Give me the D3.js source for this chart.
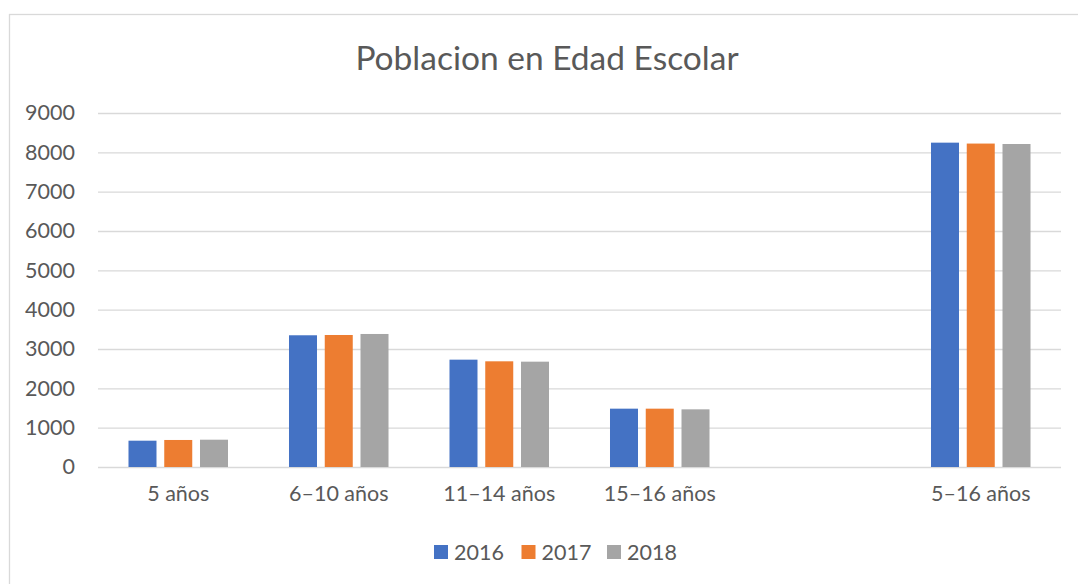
<!DOCTYPE html>
<html>
<head>
<meta charset="utf-8">
<script src="https://cdn.jsdelivr.net/npm/d3@7"></script>
<style>
  html, body { margin: 0; padding: 0; background: #fff; }
  svg { display: block; font-family: Lato, "Open Sans", sans-serif; }
  .grid line { stroke: #d9d9d9; stroke-width: 1.3; }
  .grid .domain { display: none; }
  .yAxis text, .xAxis text, .legend text { fill: #595959; }
</style>
</head>
<body>
<div id="chart"></div>
<script>
// categorias (la quinta queda vacia en el original)
var categories = ["5 años", "6–10 años", "11–14 años", "15–16 años", " ", "5–16 años"];
var years = ["2016", "2017", "2018"];
var values2016 = [669, 3349, 2729, 1483, null, 8246];
var values2017 = [687, 3356, 2687, 1483, null, 8223];
var values2018 = [694, 3382, 2678, 1466, null, 8212];
var yTicks = [0, 1000, 2000, 3000, 4000, 5000, 6000, 7000, 8000, 9000];
var colors = ["#4472c4", "#ed7d31", "#a5a5a5"];

var W = 1078, H = 584;
var margin = {top: 113, right: 17, bottom: 117, left: 98},
    width = W - margin.left - margin.right,
    height = H - margin.top - margin.bottom;
var labelSize = 21.5;

var svg = d3.select("#chart").append("svg")
    .attr("width", W)
    .attr("height", H);

// marco del grafico
svg.append("rect")
    .attr("x", 9.5).attr("y", 14.5)
    .attr("width", W + 20).attr("height", H + 20)
    .attr("fill", "none").attr("stroke", "#d9d9d9").attr("stroke-width", 1.3);

svg.append("text")
    .attr("x", 547).attr("y", 70)
    .attr("text-anchor", "middle")
    .attr("font-size", 33.5)
    .attr("fill", "#595959")
    .text("Poblacion en Edad Escolar");

var g = svg.append("g").attr("transform", "translate(" + margin.left + "," + margin.top + ")");

var seriesData = [values2016, values2017, values2018];
var rows = categories.map(function(c, i){
  return { cat: c, vals: years.map(function(yr, j){ return {year: yr, idx: j, v: seriesData[j][i]}; }) };
});

var x0 = d3.scaleBand().domain(categories).range([0, width]).paddingInner(0.38).paddingOuter(0.19);
var x1 = d3.scaleBand().domain(years).range([0, x0.bandwidth()]).paddingInner(0.217).paddingOuter(0);
var y = d3.scaleLinear().domain([0, 9000]).range([height, 0]);

g.append("g")
    .attr("class", "grid")
    .call(d3.axisLeft(y).tickValues(yTicks).tickSize(-width).tickFormat(""));

g.append("g")
    .attr("class", "yAxis")
    .call(d3.axisLeft(y).tickValues(yTicks).tickSize(0).tickPadding(23).tickFormat(d3.format("d")))
    .call(function(a){ a.select(".domain").remove(); })
    .selectAll("text").attr("font-size", labelSize).attr("font-family", "Lato");

var groups = g.selectAll(".grp")
    .data(rows)
    .enter().append("g")
    .attr("class", "grp")
    .attr("transform", function(d){ return "translate(" + x0(d.cat) + ",0)"; });

groups.selectAll("rect")
    .data(function(d){ return d.vals.filter(function(e){ return e.v != null; }); })
    .enter().append("rect")
    .attr("x", function(d){ return x1(d.year); })
    .attr("y", function(d){ return y(d.v); })
    .attr("width", x1.bandwidth())
    .attr("height", function(d){ return height - y(d.v); })
    .attr("fill", function(d){ return colors[d.idx]; });

g.append("g")
    .attr("class", "xAxis")
    .attr("transform", "translate(0," + height + ")")
    .call(d3.axisBottom(x0).tickSize(0).tickPadding(19))
    .call(function(a){ a.select(".domain").remove(); })
    .selectAll("text").attr("font-size", labelSize).attr("font-family", "Lato");

// leyenda
var legendX = [434, 521.5, 607];
var legend = svg.append("g").attr("class", "legend");
var items = legend.selectAll("g")
    .data(years)
    .enter().append("g")
    .attr("transform", function(d, i){ return "translate(" + legendX[i] + ",545)"; });
items.append("rect")
    .attr("width", 14).attr("height", 14)
    .attr("fill", function(d, i){ return colors[i]; });
items.append("text")
    .attr("x", 20).attr("y", 15)
    .attr("font-size", labelSize)
    .text(function(d){ return d; });
</script>
</body>
</html>
